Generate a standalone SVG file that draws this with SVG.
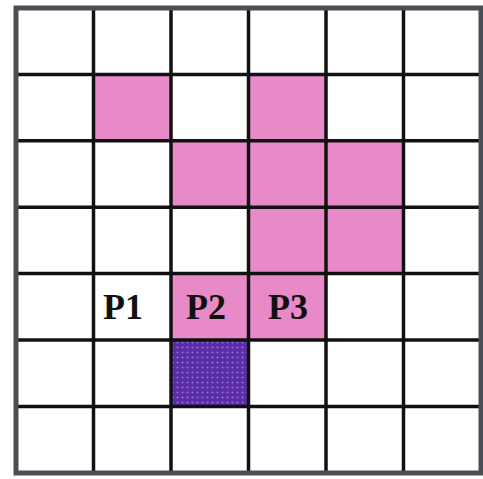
<svg xmlns="http://www.w3.org/2000/svg" width="483" height="479" viewBox="0 0 483 479">
  <style>
    .pink { fill: #E98AC8; }
    .cellfill { fill: #FFFFFF; }
    .grid line { stroke: #111111; stroke-width: 3.5; }
    .label { font-family: "Liberation Serif", "Times New Roman", serif; font-weight: bold; font-size: 36px; fill: #111111; text-anchor: middle; }
  </style>
  <defs>
    <pattern id="dots" x="0" y="0" width="5" height="5" patternUnits="userSpaceOnUse">
      <rect width="5" height="5" fill="#5A2CA6"/>
      <circle cx="2.5" cy="2.5" r="1.1" fill="#8E6FD8"/>
    </pattern>
  </defs>
  <rect width="483" height="479" fill="#FFFFFF"/>
  <g id="cells">
    <rect class="pink" x="93.5" y="74.4" width="77.5" height="66.4"/>
    <rect class="pink" x="248.5" y="74.4" width="77.5" height="66.4"/>
    <rect class="pink" x="171" y="140.8" width="232.5" height="66.4"/>
    <rect class="pink" x="248.5" y="207.2" width="155" height="66.4"/>
    <rect class="pink" x="171" y="273.6" width="155" height="66.4"/>
    <rect x="171" y="340" width="77.5" height="66.4" fill="url(#dots)"/>
  </g>
  <g id="labels">
    <text class="label" x="123" y="319">P1</text>
    <text class="label" x="206" y="319">P2</text>
    <text class="label" x="288" y="319">P3</text>
  </g>
  <g class="grid" id="grid">
    <line x1="93.5" y1="8" x2="93.5" y2="473"/>
    <line x1="171" y1="8" x2="171" y2="473"/>
    <line x1="248.5" y1="8" x2="248.5" y2="473"/>
    <line x1="326" y1="8" x2="326" y2="473"/>
    <line x1="403.5" y1="8" x2="403.5" y2="473"/>
    <line x1="16" y1="74.4" x2="481" y2="74.4"/>
    <line x1="16" y1="140.8" x2="481" y2="140.8"/>
    <line x1="16" y1="207.2" x2="481" y2="207.2"/>
    <line x1="16" y1="273.6" x2="481" y2="273.6"/>
    <line x1="16" y1="340" x2="481" y2="340"/>
    <line x1="16" y1="406.4" x2="481" y2="406.4"/>
  </g>
  <rect id="border" x="16" y="8" width="465" height="465" fill="none" stroke="#4A4F55" stroke-width="5"/>
</svg>
